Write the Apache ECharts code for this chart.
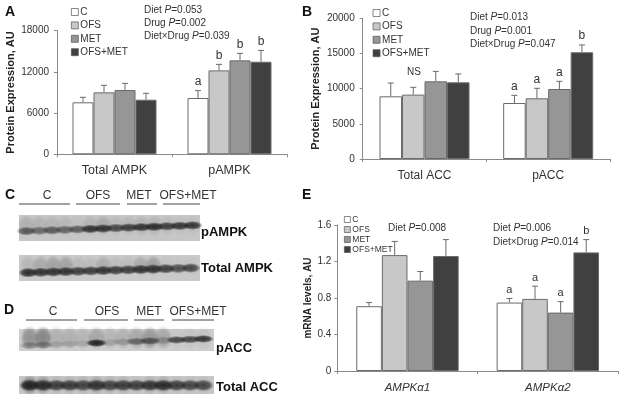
<!DOCTYPE html>
<html><head><meta charset="utf-8">
<style>html,body{margin:0;padding:0;background:#fff}#c{width:624px;height:400px}</style>
<script src="https://cdn.jsdelivr.net/npm/echarts@6/dist/echarts.min.js"></script>
</head><body><div id="c"></div>
<script>
const groups = ['C','OFS','MET','OFS+MET'];
const colors = ['#ffffff','#c8c8c8','#969696','#404040'];
const catsA = ['Total AMPK','pAMPK'];
const valuesA = [[7570,8200],[9020,12220],[9360,13680],[7950,13480]];
const errTopA = [[8300,9270],[10040,13100],[10330,14700],[8880,15130]];
const lettersA = [['',  'a'],['', 'b'],['', 'b'],['', 'b']];
const catsB = ['Total ACC','pACC'];
const valuesB = [[8910,7960],[9150,8630],[11040,9950],[10900,15170]];
const errTopB = [[10800,9050],[10190,10050],[12460,11040],[12090,16210]];
const lettersB = [['', 'a'],['', 'a'],['', 'a'],['', 'b']];
const catsE = ['AMPKα1','AMPKα2'];
const valuesE = [[0.71,0.75],[1.27,0.79],[0.99,0.64],[1.26,1.30]];
const errTopE = [[0.75,0.795],[1.42,0.93],[1.09,0.76],[1.44,1.44]];
const lettersE = [['', 'a'],['', 'a'],['', 'a'],['', 'b']];
// blot lane darkness (0..1), one entry per lane
const lanesPAMPK = [.62,.5,.6,.55,.6,.85,.85,.72,.8,.85,.9,.8,.85,.85];
const smearPAMPK = [.18,.15,.15,.12,.06,.15,.22,.12,.12,.15,.15,.09,.06,.06];
const lanesTAMPK = [.9,.85,.85,.85,.8,.8,.85,.8,.8,.85,.85,.8,.7,.75];
const smearTAMPK = [.15,.25,.3,.3,.12,.1,.22,.1,.1,.25,.32,.06,.03,.03];
const lanesPACC = [.3,.35,.15,.15,.12,.95,.15,.2,.5,.6,.25,.75,.75,.85];
const smearPACC = [.45,.55,.22,.22,.18,.3,.18,.22,.28,.4,.3,.05,.08,.08];
const lanesTACC = [.95,.9,.8,.8,.75,.85,.75,.8,.8,.85,.9,.8,.75,.75];
const smearTACC = [.5,.4,.15,.2,.2,.3,.2,.2,.1,.2,.25,.1,.1,.1];

const FONT = '"Liberation Sans", Arial, sans-serif';
const axisLine = {lineStyle:{color:'#8a8a8a',width:1}};
const panels = [
 {cats:catsA,vals:valuesA,err:errTopA,let:lettersA,left:57,right:337,top:30.7,bottom:245.7,max:18000,interval:6000,bw:21,name:'Protein Expression, AU',nameGap:41,nameSize:11,ls:12.5,margin:10,ym:8,italic:false,letSize:12},
 {cats:catsB,vals:valuesB,err:errTopB,let:lettersB,left:362.7,right:14,top:18.3,bottom:241,max:20000,interval:5000,bw:22.5,name:'Protein Expression, AU',nameGap:41,nameSize:11,ls:12,margin:11,ym:8,italic:false,letSize:12},
 {cats:catsE,vals:valuesE,err:errTopE,let:lettersE,left:337.3,right:6,top:225,bottom:29,max:1.6,interval:0.4,bw:25.6,name:'mRNA levels, AU',nameGap:23,nameSize:10,ls:11.5,margin:11,ym:6,italic:true,letSize:11}
];
const grid=[],xAxis=[],yAxis=[],series=[];
panels.forEach((p,pi)=>{
  grid.push({left:p.left,right:p.right,top:p.top,bottom:p.bottom});
  xAxis.push({type:'category',gridIndex:pi,data:p.cats,axisLine,axisTick:{show:true,length:3,lineStyle:{color:'#8a8a8a'},alignWithLabel:false},
    axisLabel:{color:'#333',fontFamily:FONT,fontSize:p.ls,margin:p.margin,fontStyle:p.italic?'italic':'normal',interval:0}});
  yAxis.push({type:'value',gridIndex:pi,min:0,max:p.max,interval:p.interval,splitLine:{show:false},
    axisLine:{show:true,lineStyle:{color:'#8a8a8a'}},axisTick:{show:true,length:3,lineStyle:{color:'#8a8a8a'}},
    axisLabel:{color:'#333',fontFamily:FONT,fontSize:10,margin:p.ym,formatter:v=>p.max<10?v.toFixed(1).replace(/^0\.0$/,'0'):String(v)},
    name:p.name,nameLocation:'middle',nameGap:p.nameGap,nameTextStyle:{color:'#222',fontFamily:FONT,fontWeight:'bold',fontSize:p.nameSize}});
  groups.forEach((g,i)=>{
    series.push({type:'bar',name:g,xAxisIndex:pi,yAxisIndex:pi,data:p.vals[i],barWidth:p.bw,barGap:'0%',animation:false,
      itemStyle:{color:colors[i],borderColor:'#6a6a6a',borderWidth:1}});
  });
  groups.forEach((g,i)=>{
    const data=p.cats.map((c,k)=>[k,p.vals[i][k],p.err[i][k],p.let[i][k]]);
    series.push({type:'custom',name:'err-'+g,xAxisIndex:pi,yAxisIndex:pi,data,animation:false,z:5,silent:true,
      encode:{x:0,y:[1,2]},
      renderItem(params,api){
        const k=api.value(0);
        const a=api.coord([k,api.value(1)]),b=api.coord([k,api.value(2)]);
        const x=a[0]+(i-1.5)*p.bw;
        const st={stroke:'#6a6a6a',lineWidth:1};
        const ch=[
          {type:'line',shape:{x1:x,y1:a[1],x2:x,y2:b[1]},style:st},
          {type:'line',shape:{x1:x-3,y1:b[1],x2:x+3,y2:b[1]},style:st}];
        const t=p.let[i][k];
        if(t) ch.push({type:'text',style:{text:t,x:x,y:b[1]-3,textAlign:'center',textVerticalAlign:'bottom',font:p.letSize+'px '+FONT,fill:'#333'}});
        return {type:'group',children:ch};
      }});
  });
});
const legendOf=(left,top,size,gap,iw)=>({orient:'vertical',left,top,data:groups,itemWidth:iw,itemHeight:iw,itemGap:gap,icon:'rect',selectedMode:false,padding:0,
  itemStyle:{borderWidth:.7,borderColor:'#555'},
  textStyle:{fontFamily:FONT,fontSize:size,color:'#333',padding:[0,0,0,-3]}});

const g=[];
const txt=(text,x,y,o={})=>g.push({type:'text',x,y,z:20,style:Object.assign({text,font:(o.weight?o.weight+' ':'')+(o.size||10)+'px '+FONT,fill:o.fill||'#333',textAlign:o.align||'left',textVerticalAlign:'middle',
   rich:{i:{fontStyle:'italic',fontFamily:FONT,fontSize:o.size||10,fill:'#333'},n:{fontFamily:FONT,fontSize:o.size||10,fill:'#333'}}},o.style||{})});
const stat=(a,b,x,y)=>txt('{n|'+a+' }{i|P}{n|='+b+'}',x,y);
[['A',5,12],['B',302,12],['C',5,195],['D',4,310],['E',302,195]].forEach(l=>txt(l[0],l[1],l[2],{weight:'bold',size:14,fill:'#111'}));
stat('Diet','0.053',144,10);stat('Drug','0.002',144,23);stat('Diet×Drug','0.039',144,36);
stat('Diet','0.013',470,17);stat('Drug','0.001',470,31);stat('Diet×Drug','0.047',470,44);
stat('Diet','0.008',388,228);stat('Diet','0.006',493,228);stat('Diet×Drug','0.014',493,242);
txt('NS',414,72,{align:'center',size:10});

function blot(x,y,w,h,lanes,smear,o){
  g.push({type:'rect',shape:{x,y,width:w,height:h},z:10,style:{fill:o.bg}});
  const pad=o.pad,step=(w-2*pad)/lanes.length;
  const grad=(a,c)=>({type:'radial',x:.5,y:.5,r:.5,colorStops:[{offset:0,color:`rgba(${c},${a})`},{offset:.6,color:`rgba(${c},${a*.8})`},{offset:1,color:`rgba(${c},0)`}]});
  const oval=(cx,cy,rx,ry,fill,z)=>g.push({type:'circle',z,x:cx,y:cy,scaleX:rx/ry,scaleY:1,shape:{cx:0,cy:0,r:ry},style:{fill}});
  lanes.forEach((d,i)=>{
    const cx=x+pad+step*(i+.5);
    const by=y+h*(o.by0+(o.by1-o.by0)*i/(lanes.length-1));
    oval(cx,y+h*o.sy,step*.7,h*o.sry,grad(smear[i],'70,70,70'),11);
    oval(cx,by,step*.8,o.bry,grad(d,'25,25,25'),12);
  });
}
blot(19,215,181,26,lanesPAMPK,smearPAMPK,{bg:'#c6c6c6',pad:1,by0:.62,by1:.4,sy:.4,sry:.42,bry:4.5});
blot(19,255,181,26,lanesTAMPK,smearTAMPK,{bg:'#c9c9c9',pad:3,by0:.68,by1:.5,sy:.4,sry:.4,bry:5});
blot(19,329,195,22,lanesPACC,smearPACC,{bg:'#cdcdcd',pad:4,by0:.75,by1:.45,sy:.4,sry:.55,bry:4});
blot(19,376,195,18,lanesTACC,smearTACC,{bg:'#c6c6c6',pad:4,by0:.52,by1:.52,sy:.5,sry:.55,bry:6});
txt('pAMPK',201,232,{weight:'bold',size:13,fill:'#111'});
txt('Total AMPK',201,268,{weight:'bold',size:13,fill:'#111'});
txt('pACC',216,348,{weight:'bold',size:13,fill:'#111'});
txt('Total ACC',216,387,{weight:'bold',size:13,fill:'#111'});
const hdr=(t,cx,y,x1,x2)=>{txt(t,cx,y,{align:'center',size:12});
  g.push({type:'line',z:20,shape:{x1,y1:y+8,x2,y2:y+8},style:{stroke:'#444',lineWidth:1}});};
hdr('C',47,196,19,70);hdr('OFS',98,196,76,120);hdr('MET',139,196,127,157);hdr('OFS+MET',188,196,163,200);
hdr('C',53,312,26,77);hdr('OFS',107,312,84,128);hdr('MET',149,312,134,164);hdr('OFS+MET',198,312,172,214);

const chart=echarts.init(document.getElementById('c'),null,{renderer:'canvas'});
chart.setOption({animation:false,backgroundColor:'#fff',grid,xAxis,yAxis,series,
  legend:[legendOf(71,7,10,3.4,7),legendOf(372.7,8,10,3.4,7),legendOf(344,215,8.5,1,6)],
  graphic:{elements:g}});
</script></body></html>
